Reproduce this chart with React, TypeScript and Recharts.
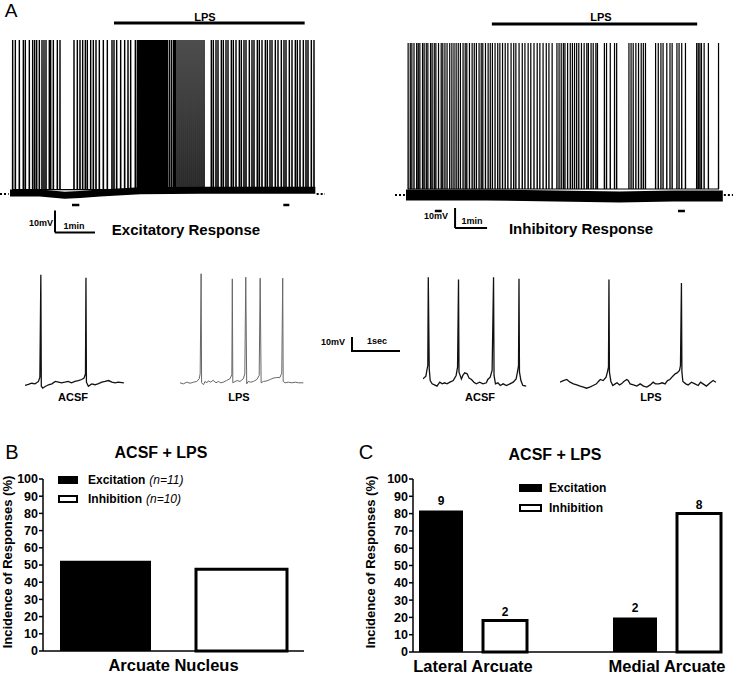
import React from "react";
import {
  ComposedChart,
  BarChart,
  Bar,
  Line,
  XAxis,
  YAxis,
  ReferenceLine,
  LabelList,
  Legend,
} from "recharts";

const FONT = '"Liberation Sans", Arial, Helvetica, sans-serif';

// ---------- A: whole recordings (time in s, membrane potential in mV) ----------
const excSpikes = [
  4, 8, 14, 20, 23, 29, 34, 37, 40, 44, 48, 51, 54, 59, 61, 65, 71, 75,
  96, 101, 105, 109, 113, 116, 121, 125, 129, 134, 140, 146, 153, 156, 160, 166, 172, 177, 181, 188,
  191, 192, 193, 194, 195, 196, 197, 198, 199, 200, 201, 202, 203, 204, 205, 206, 207, 208, 209,
  210, 211, 212, 213, 214, 215, 216, 217, 218, 219, 220,
  222, 224, 226, 228, 230, 232, 234, 236, 239, 242, 245, 247, 249, 252, 255, 258, 261, 264, 267,
  270, 273, 276, 279, 282, 285, 288, 291,
  302, 305, 309, 312, 317, 320, 324, 327, 332, 335, 339, 344, 347, 351, 354, 359, 363, 366, 371,
  374, 378, 383, 386, 390, 393, 398, 402, 407, 411, 414, 419, 423, 428, 431, 435, 440, 444, 447,
  452, 456,
];
const excBaseline: [number, number][] = [
  [0, -59.5], [45, -59.5], [82, -60.6], [105, -60.2], [135, -59.5],
  [195, -58.5], [285, -58.3], [375, -58.3], [458, -58.3],
];
const excLps: [number, number] = [156, 442];
const excSamples: [number, number][] = [[93, 104], [410, 419]];

const inhSpikes = [
  4, 8, 11, 15, 20, 23, 26, 31, 34, 38, 41, 46, 49, 53, 56, 61, 66, 69, 73, 77, 82, 86, 90, 94,
  98, 102, 107, 111, 114, 119, 124, 128, 132, 137, 141, 144, 149, 154, 158, 162, 167, 172, 176,
  181, 186, 191, 197, 202, 206, 212, 218, 223, 229, 234, 240, 246, 251, 257, 263, 268, 274,
  283, 287, 291, 295, 298, 303, 308, 312, 316, 320, 324, 329, 334, 339, 342, 347, 351, 356, 359,
  372, 376, 383, 391, 395, 418, 422, 426, 431, 436, 441, 445, 449, 468, 473, 478, 482, 489, 495,
  499, 508, 512, 517, 524, 545, 548, 551, 554, 559, 567, 586,
];
const inhBaseline: [number, number][] = [
  [0, -60], [150, -60], [280, -60.5], [400, -61], [500, -60.5], [594, -60.5],
];
const inhLps: [number, number] = [161, 546];
const inhSamples: [number, number][] = [[54, 67], [510, 523]];

// ---------- A: expanded segments (time in s, mV) ----------
const acsfExc: [number, number][] = [
  [0, -62], [0.07, -61.3], [0.14, -60.5], [0.21, -60.9], [0.28, -59.3], [0.31, -56.5],
  [0.33, 11.8], [0.34, -62.5], [0.37, -63.8], [0.42, -62.7], [0.49, -61.5], [0.56, -60.9],
  [0.63, -59.3], [0.7, -59.8], [0.76, -60.2], [0.83, -59.8], [0.9, -59.3], [0.97, -60.2],
  [1.04, -59.3], [1.11, -58.7], [1.18, -58], [1.23, -57.1], [1.26, -54.2], [1.27, 9.8],
  [1.28, -59.8], [1.32, -62.5], [1.39, -60.9], [1.46, -61.5], [1.53, -60.7], [1.6, -59.8],
  [1.67, -59.3], [1.74, -58.7], [1.81, -59.8], [1.88, -60.2], [1.94, -59.8], [2.06, -60.2],
];
const lpsExc: [number, number][] = [
  [0, -60.2], [0.07, -60.9], [0.14, -59.8], [0.21, -60.5], [0.28, -59.8], [0.35, -59.3],
  [0.4, -57.5], [0.42, -54.2], [0.44, 12.5], [0.45, -60.2], [0.49, -61.5], [0.52, -59.3],
  [0.56, -60.2], [0.59, -58.9], [0.64, -59.8], [0.69, -58.5], [0.75, -60.2], [0.8, -59.3],
  [0.85, -60.2], [0.9, -59.8], [0.97, -58.7], [1.04, -57.5], [1.08, -54.9], [1.09, 9.1],
  [1.1, -60.2], [1.15, -59.3], [1.19, -58.7], [1.25, -59.3], [1.32, -57.5], [1.35, -54.2],
  [1.37, 10.2], [1.39, -60.9], [1.42, -59.3], [1.47, -59.8], [1.53, -59.3], [1.6, -58],
  [1.65, -55.3], [1.67, 9.5], [1.69, -60.2], [1.74, -59.3], [1.81, -58.9], [1.88, -58],
  [1.94, -57.1], [2.01, -56.7], [2.08, -56.7], [2.12, -53.8], [2.14, 9.5], [2.15, -59.3],
  [2.19, -60.2], [2.26, -59.8], [2.33, -60.2], [2.4, -59.8], [2.47, -60.2], [2.57, -60.2],
];
const acsfInh: [number, number][] = [
  [0, -57.6], [0.06, -55.8], [0.08, -52], [0.1, -48.7], [0.11, 10.2], [0.13, -50.9],
  [0.15, -58.7], [0.19, -60.9], [0.24, -61.6], [0.29, -62.4], [0.35, -59.8], [0.4, -60.9],
  [0.45, -60.2], [0.5, -60.9], [0.56, -59.8], [0.63, -58.7], [0.69, -55.3], [0.72, -49.8],
  [0.74, 8.7], [0.75, -53.1], [0.8, -57.6], [0.83, -55.3], [0.87, -53.6], [0.92, -54.2],
  [0.96, -57.1], [1.01, -58], [1.06, -59.8], [1.11, -60.9], [1.18, -59.8], [1.25, -60.9],
  [1.32, -60.2], [1.35, -58], [1.4, -56.4], [1.44, -52], [1.47, 10.2], [1.48, -55.3],
  [1.51, -60.9], [1.56, -60.2], [1.61, -62], [1.67, -60.9], [1.74, -62], [1.81, -60.9],
  [1.88, -59.8], [1.94, -57.6], [1.97, -52.7], [1.99, -48.7], [2.0, 9.1], [2.01, -53.1],
  [2.04, -58.7], [2.08, -62], [2.15, -62.4],
];
const lpsInh: [number, number][] = [
  [0, -59.8], [0.07, -58.7], [0.14, -58], [0.21, -59.8], [0.28, -60.9], [0.35, -61.6],
  [0.42, -62.4], [0.49, -63.1], [0.55, -63.8], [0.62, -63.1], [0.69, -62], [0.76, -60.9],
  [0.8, -59.3], [0.84, -58], [0.9, -58.7], [0.96, -56.4], [0.99, -52.7], [1.01, -49.8],
  [1.02, 8.7], [1.03, -53.1], [1.06, -59.3], [1.1, -62], [1.15, -60.9], [1.19, -60.2],
  [1.24, -61.6], [1.28, -60.9], [1.33, -59.3], [1.39, -58], [1.42, -58.7], [1.46, -60.9],
  [1.53, -61.6], [1.6, -62.4], [1.67, -60.9], [1.74, -62.4], [1.81, -63.1], [1.88, -61.6],
  [1.94, -59.8], [1.99, -60.9], [2.06, -60.9], [2.13, -60.2], [2.19, -60.9], [2.24, -58.7],
  [2.29, -58], [2.35, -55.8], [2.4, -54.2], [2.44, -53.6], [2.49, -52], [2.51, -48.7],
  [2.53, 6.4], [2.54, -53.1], [2.56, -59.3], [2.62, -60.9], [2.67, -61.6], [2.74, -59.8],
  [2.81, -60.9], [2.88, -62], [2.93, -59.8], [2.98, -60.9], [3.05, -62.4], [3.13, -60.2],
  [3.19, -58.7], [3.25, -59.8],
];

// ---------- B and C: incidence of responses (%) ----------
const yTicks = [0, 10, 20, 30, 40, 50, 60, 70, 80, 90, 100];
const bCategories = ["Arcuate Nucleus"];
const bExcitation = [52.4];
const bInhibition = [47.6];
const bExcitationN = 11;
const bInhibitionN = 10;

const cCategories = ["Lateral Arcuate", "Medial Arcuate"];
const cExcitation = [81.8, 20];
const cInhibition = [18.2, 80];
const cExcitationN = [9, 2];
const cInhibitionN = [2, 8];

const bData = bCategories.map((name, i) => ({ name, exc: bExcitation[i], inh: bInhibition[i] }));
const cData = cCategories.map((name, i) => ({
  name,
  exc: cExcitation[i],
  inh: cInhibition[i],
  excN: cExcitationN[i],
  inhN: cInhibitionN[i],
}));

function Txt({
  x,
  y,
  size,
  bold = true,
  anchor = "middle",
  rotate = 0,
  children,
}: {
  x: number;
  y: number;
  size: number;
  bold?: boolean;
  anchor?: "start" | "middle" | "end";
  rotate?: number;
  children: React.ReactNode;
}) {
  const tx = anchor === "middle" ? "-50%" : anchor === "end" ? "-100%" : "0";
  return (
    <div
      style={{
        position: "absolute",
        left: x,
        top: y,
        transform: `rotate(${rotate}deg) translate(${tx}, -50%)`,
        transformOrigin: "0 0",
        fontFamily: FONT,
        fontSize: size,
        fontWeight: bold ? 700 : 400,
        lineHeight: 1,
        whiteSpace: "nowrap",
        color: "#000",
      }}
    >
      {children}
    </div>
  );
}

type LongTraceProps = {
  spikes: number[];
  baseline: [number, number][];
  restMv: number;
  peakMv: number;
  left: number;
  top: number;
  width: number;
  height: number;
  xDomain: [number, number];
  yDomain: [number, number];
  band: number;
  spikeWidth: number;
  traceEnd: number;
  lps: [number, number];
  lpsMv: number;
  samples: [number, number][];
  sampleMv: number;
  barT: number;
  barMv: number;
};

function LongTrace(p: LongTraceProps) {
  const baseData = p.baseline.map(([t, v]) => ({ t, v }));
  const spikeData = p.spikes.flatMap((t) => [
    { t: t - 0.2, v: p.restMv },
    { t, v: p.peakMv },
    { t: t + 0.2, v: p.restMv },
  ]);
  return (
    <div style={{ position: "absolute", left: p.left, top: p.top }}>
      <ComposedChart width={p.width} height={p.height} margin={{ top: 0, right: 0, bottom: 0, left: 0 }}>
        <XAxis type="number" dataKey="t" domain={p.xDomain} hide allowDataOverflow />
        <YAxis type="number" domain={p.yDomain} hide allowDataOverflow />
        <Line
          data={baseData}
          dataKey="v"
          stroke="#000"
          strokeWidth={p.band}
          dot={false}
          activeDot={false}
          isAnimationActive={false}
        />
        <Line
          data={spikeData}
          dataKey="v"
          stroke="#000"
          strokeWidth={p.spikeWidth}
          dot={false}
          activeDot={false}
          isAnimationActive={false}
        />
        <ReferenceLine
          segment={[{ x: p.lps[0], y: p.lpsMv }, { x: p.lps[1], y: p.lpsMv }]}
          stroke="#000"
          strokeWidth={3}
        />
        <ReferenceLine
          segment={[{ x: p.xDomain[0], y: -60 }, { x: -2, y: -60 }]}
          stroke="#000"
          strokeWidth={2}
          strokeDasharray="2 2"
        />
        <ReferenceLine
          segment={[{ x: p.traceEnd + 2, y: -60 }, { x: p.xDomain[1], y: -60 }]}
          stroke="#000"
          strokeWidth={2}
          strokeDasharray="2 2"
        />
        {p.samples.map(([a, b]) => (
          <ReferenceLine
            key={a}
            segment={[{ x: a, y: p.sampleMv }, { x: b, y: p.sampleMv }]}
            stroke="#000"
            strokeWidth={2.5}
          />
        ))}
        <ReferenceLine
          segment={[{ x: p.barT, y: p.barMv + 10 }, { x: p.barT, y: p.barMv }]}
          stroke="#000"
          strokeWidth={2}
        />
        <ReferenceLine
          segment={[{ x: p.barT, y: p.barMv }, { x: p.barT + 60, y: p.barMv }]}
          stroke="#000"
          strokeWidth={2}
        />
      </ComposedChart>
    </div>
  );
}

function ShortTrace({
  points,
  left,
  span,
  stroke,
  width,
}: {
  points: [number, number][];
  left: number;
  span: number;
  stroke: string;
  width: number;
}) {
  const data = points.map(([t, v]) => ({ t, v }));
  return (
    <div style={{ position: "absolute", left, top: 270 }}>
      <ComposedChart width={span * 48} height={123} margin={{ top: 0, right: 0, bottom: 0, left: 0 }}>
        <XAxis type="number" dataKey="t" domain={[0, span]} hide allowDataOverflow />
        <YAxis type="number" domain={[-67, 15]} hide allowDataOverflow />
        <Line
          data={data}
          dataKey="v"
          stroke={stroke}
          strokeWidth={width}
          dot={false}
          activeDot={false}
          isAnimationActive={false}
        />
      </ComposedChart>
    </div>
  );
}

type LegendRow = { label: string; note?: string; filled: boolean };

function LegendBox({ rows, swatch, gap, rowH }: { rows: LegendRow[]; swatch: number; gap: number; rowH: number }) {
  return (
    <div style={{ fontFamily: FONT, fontSize: 12, fontWeight: 700, color: "#000" }}>
      {rows.map((r) => (
        <div key={r.label} style={{ display: "flex", alignItems: "center", height: rowH }}>
          <span
            style={{
              display: "inline-block",
              boxSizing: "border-box",
              width: swatch,
              height: 8,
              background: r.filled ? "#000" : "#fff",
              border: "2px solid #000",
            }}
          />
          <span style={{ marginLeft: gap }}>{r.label}</span>
          {r.note && <span style={{ marginLeft: 4, fontStyle: "italic", fontWeight: 400 }}>{r.note}</span>}
        </div>
      ))}
    </div>
  );
}

const axisStyle = { stroke: "#000", strokeWidth: 1.5 };
const tickFont = { fill: "#000", fontSize: 12.5, fontWeight: 700, fontFamily: FONT };
const catFont = { fill: "#000", fontSize: 16.5, fontWeight: 700, fontFamily: FONT };
const Y_TITLE = "Incidence of Responses (%)";

export default function App() {
  return (
    <div style={{ position: "absolute", left: 0, top: 0, width: 733, height: 676, background: "#fff", overflow: "hidden" }}>
      <Txt x={11} y={10} size={19} bold={false}>A</Txt>

      <LongTrace
        spikes={excSpikes}
        baseline={excBaseline}
        restMv={-58}
        peakMv={10}
        left={0}
        top={18}
        width={325}
        height={220}
        xDomain={[-15, 472.5]}
        yDomain={[-80, 20]}
        band={7}
        spikeWidth={1.4}
        traceEnd={458}
        lps={excLps}
        lpsMv={17.7}
        samples={excSamples}
        sampleMv={-65}
        barT={67.5}
        barMv={-77.5}
      />
      <Txt x={205} y={17} size={11}>LPS</Txt>
      <Txt x={53} y={223} size={9} anchor="end">10mV</Txt>
      <Txt x={74} y={226} size={9}>1min</Txt>
      <Txt x={186} y={229} size={15}>Excitatory Response</Txt>

      <LongTrace
        spikes={inhSpikes}
        baseline={inhBaseline}
        restMv={-57}
        peakMv={16}
        left={395}
        top={20}
        width={338}
        height={215}
        xDomain={[-20.625, 613.125]}
        yDomain={[-80, 27.5]}
        band={11}
        spikeWidth={1.2}
        traceEnd={594}
        lps={inhLps}
        lpsMv={25.5}
        samples={inhSamples}
        sampleMv={-68}
        barT={92}
        barMv={-76.5}
      />
      <Txt x={601} y={17} size={11}>LPS</Txt>
      <Txt x={436} y={216} size={9}>10mV</Txt>
      <Txt x={472} y={221} size={9}>1min</Txt>
      <Txt x={581} y={228} size={15}>Inhibitory Response</Txt>

      <ShortTrace points={acsfExc} left={25} span={2.1} stroke="#111" width={1.3} />
      <ShortTrace points={lpsExc} left={180} span={2.6} stroke="#666" width={1} />
      <ShortTrace points={acsfInh} left={423} span={2.2} stroke="#111" width={1.3} />
      <ShortTrace points={lpsInh} left={560} span={3.3} stroke="#111" width={1.3} />
      <div
        style={{
          position: "absolute",
          left: 351,
          top: 337,
          width: 49,
          height: 15,
          boxSizing: "border-box",
          borderLeft: "2px solid #000",
          borderBottom: "2px solid #000",
        }}
      />
      <Txt x={333} y={342} size={9}>10mV</Txt>
      <Txt x={377} y={341} size={9}>1sec</Txt>
      <Txt x={73} y={397} size={11}>ACSF</Txt>
      <Txt x={239} y={397} size={11}>LPS</Txt>
      <Txt x={480} y={397} size={11}>ACSF</Txt>
      <Txt x={651} y={397} size={11}>LPS</Txt>

      <Txt x={12} y={452} size={20} bold={false}>B</Txt>
      <Txt x={161} y={453} size={16}>ACSF + LPS</Txt>
      <Txt x={7} y={562} size={13} rotate={-90}>{Y_TITLE}</Txt>
      <div style={{ position: "absolute", left: 0, top: 430 }}>
        <BarChart
          width={330}
          height={246}
          data={bData}
          margin={{ top: 49, right: 26, bottom: 0, left: 0 }}
          barSize={91}
          barGap={45}
        >
          <XAxis dataKey="name" tickLine={false} axisLine={axisStyle} tick={catFont} height={25} />
          <YAxis
            domain={[0, 100]}
            ticks={yTicks}
            interval={0}
            width={43}
            tickSize={4}
            tickMargin={1}
            axisLine={axisStyle}
            tickLine={axisStyle}
            tick={tickFont}
          />
          <Legend
            layout="vertical"
            align="center"
            verticalAlign="middle"
            wrapperStyle={{ left: 58, top: 40, width: 200 }}
            content={() => (
              <LegendBox
                swatch={20}
                gap={10}
                rowH={19}
                rows={[
                  { label: "Excitation", note: `(n=${bExcitationN})`, filled: true },
                  { label: "Inhibition", note: `(n=${bInhibitionN})`, filled: false },
                ]}
              />
            )}
          />
          <Bar dataKey="exc" fill="#000" isAnimationActive={false} />
          <Bar dataKey="inh" fill="#fff" stroke="#000" strokeWidth={3} isAnimationActive={false} />
        </BarChart>
      </div>

      <Txt x={366} y={452} size={20} bold={false}>C</Txt>
      <Txt x={555} y={455} size={16}>ACSF + LPS</Txt>
      <Txt x={370} y={562} size={13} rotate={-90}>{Y_TITLE}</Txt>
      <div style={{ position: "absolute", left: 365, top: 430 }}>
        <BarChart
          width={368}
          height={246}
          data={cData}
          margin={{ top: 49, right: 11, bottom: 0, left: 0 }}
          barSize={44}
          barGap={20}
        >
          <XAxis
            dataKey="name"
            tickLine={false}
            axisLine={axisStyle}
            tick={catFont}
            height={24}
            padding={{ left: -37, right: -42 }}
          />
          <YAxis
            domain={[0, 100]}
            ticks={yTicks}
            interval={0}
            width={48}
            tickSize={4}
            tickMargin={1}
            axisLine={axisStyle}
            tickLine={axisStyle}
            tick={tickFont}
          />
          <Legend
            layout="vertical"
            align="center"
            verticalAlign="middle"
            wrapperStyle={{ left: 154, top: 48, width: 160 }}
            content={() => (
              <LegendBox
                swatch={23}
                gap={7}
                rowH={20}
                rows={[
                  { label: "Excitation", filled: true },
                  { label: "Inhibition", filled: false },
                ]}
              />
            )}
          />
          <Bar dataKey="exc" fill="#000" isAnimationActive={false}>
            <LabelList dataKey="excN" position="top" offset={5} fill="#000" fontSize={12} fontWeight={700} fontFamily={FONT} />
          </Bar>
          <Bar dataKey="inh" fill="#fff" stroke="#000" strokeWidth={3} isAnimationActive={false}>
            <LabelList dataKey="inhN" position="top" offset={5} fill="#000" fontSize={12} fontWeight={700} fontFamily={FONT} />
          </Bar>
        </BarChart>
      </div>
    </div>
  );
}
